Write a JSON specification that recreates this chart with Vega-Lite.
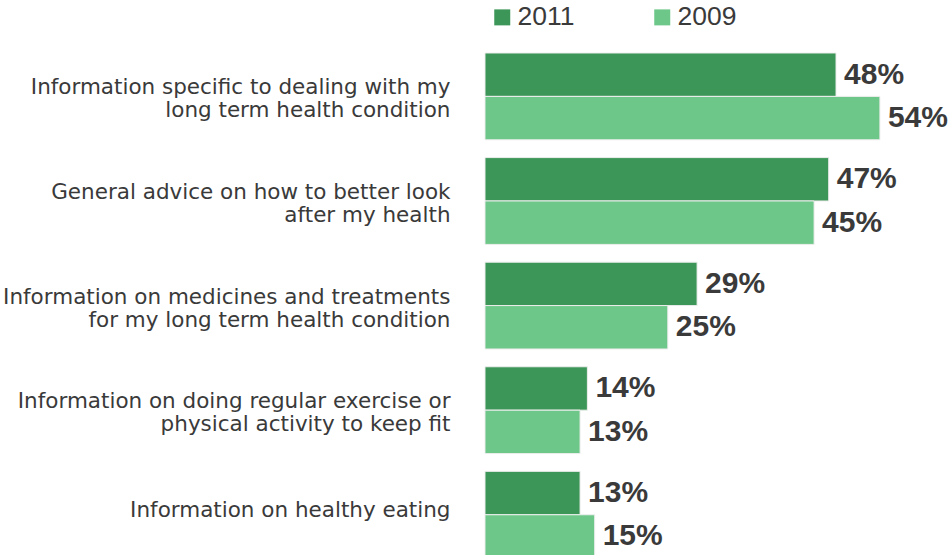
{
  "$schema": "https://vega.github.io/schema/vega-lite/v6.json",
  "width": 438.8,
  "height": 505.2,
  "autosize": {"type": "none"},
  "padding": {"left": 485, "top": 53, "right": 28, "bottom": 0},
  "background": "white",
  "config": {
    "view": {"stroke": null},
    "font": "Liberation Sans"
  },
  "data": {
    "values": [
      {"category": "Information specific to dealing with my|long term health condition", "year": "2011", "value": 48},
      {"category": "Information specific to dealing with my|long term health condition", "year": "2009", "value": 54},
      {"category": "General advice on how to better look|after my health", "year": "2011", "value": 47},
      {"category": "General advice on how to better look|after my health", "year": "2009", "value": 45},
      {"category": "Information on medicines and treatments|for my long term health condition", "year": "2011", "value": 29},
      {"category": "Information on medicines and treatments|for my long term health condition", "year": "2009", "value": 25},
      {"category": "Information on doing regular exercise or|physical activity to keep fit", "year": "2011", "value": 14},
      {"category": "Information on doing regular exercise or|physical activity to keep fit", "year": "2009", "value": 13},
      {"category": "Information on healthy eating", "year": "2011", "value": 13},
      {"category": "Information on healthy eating", "year": "2009", "value": 15}
    ]
  },
  "encoding": {
    "y": {
      "field": "category",
      "type": "nominal",
      "sort": null,
      "scale": {"paddingInner": 0.17, "paddingOuter": 0},
      "axis": {
        "title": null,
        "domain": false,
        "ticks": false,
        "labelExpr": "split(datum.label, '|')",
        "labelAlign": "right",
        "labelBaseline": "middle",
        "labelPadding": 35,
        "labelOffset": {"condition": {"test": "indexof(datum.value, '|') >= 0", "value": -8}, "value": -4},
        "labelFont": "DejaVu Sans",
        "labelFontSize": 21.5,
        "labelLineHeight": 23,
        "labelColor": "#3a3a3a",
        "labelLimit": 480
      }
    },
    "yOffset": {"field": "year", "type": "nominal", "sort": ["2011", "2009"], "scale": {"paddingInner": 0, "paddingOuter": 0}},
    "x": {
      "field": "value",
      "type": "quantitative",
      "scale": {"domain": [0, 60], "nice": false},
      "axis": null
    }
  },
  "layer": [
    {
      "mark": {"type": "bar", "stroke": "#eeeeee", "strokeWidth": 1},
      "encoding": {
        "color": {
          "field": "year",
          "type": "nominal",
          "sort": ["2011", "2009"],
          "scale": {"domain": ["2011", "2009"], "range": ["#3c9657", "#6cc788"]},
          "legend": {
            "title": null,
            "orient": "none",
            "legendX": 4,
            "legendY": -49,
            "direction": "horizontal",
            "columns": 2,
            "columnPadding": 74,
            "symbolType": "square",
            "symbolSize": 256,
            "symbolStrokeWidth": 0,
            "labelFontSize": 26.5,
            "labelColor": "#3a3a3a",
            "labelOffset": 2,
            "labelBaseline": "middle"
          }
        }
      }
    },
    {
      "mark": {"type": "text", "align": "left", "baseline": "middle", "dx": 8, "dy": 0, "fontSize": 30, "fontWeight": "bold", "color": "#3a3a3a", "text": {"expr": "datum.value + '%'"}},
      "encoding": {}
    }
  ]
}
